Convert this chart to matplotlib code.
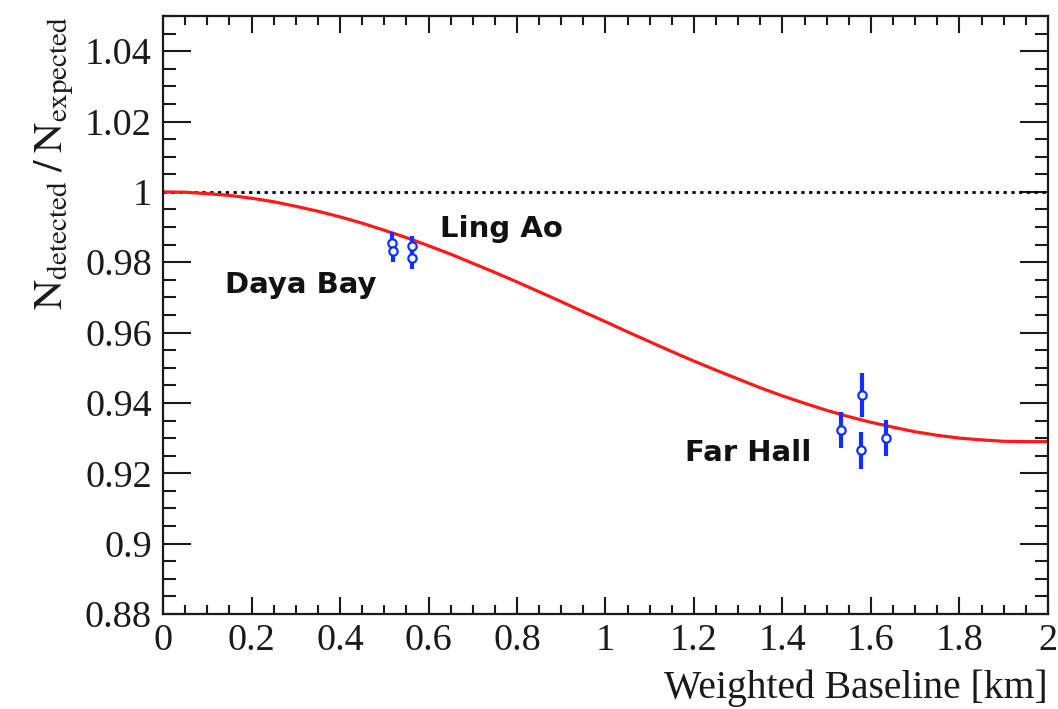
import numpy as np
import matplotlib.pyplot as plt
from matplotlib.ticker import MultipleLocator

plt.rcParams['font.family'] = ['Liberation Serif', 'DejaVu Serif']
plt.rcParams['mathtext.fontset'] = 'stix'

# expected ratio curve, every 0.05 km
curve_L = [0.0, 0.05, 0.1, 0.15, 0.2, 0.25, 0.3, 0.35, 0.4, 0.45, 0.5,
           0.55, 0.6, 0.65, 0.7, 0.75, 0.8, 0.85, 0.9, 0.95, 1.0,
           1.05, 1.1, 1.15, 1.2, 1.25, 1.3, 1.35, 1.4, 1.45, 1.5,
           1.55, 1.6, 1.65, 1.7, 1.75, 1.8, 1.85, 1.9, 1.95, 2.0]
curve_ratio = [1.0000, 0.9999, 0.9995, 0.9990, 0.9982, 0.9972, 0.9959,
               0.9945, 0.9929, 0.9911, 0.9891, 0.9870, 0.9847, 0.9823,
               0.9797, 0.9771, 0.9744, 0.9716, 0.9688, 0.9659, 0.9631,
               0.9602, 0.9574, 0.9546, 0.9519, 0.9493, 0.9468, 0.9443,
               0.9420, 0.9399, 0.9379, 0.9361, 0.9345, 0.9331, 0.9318,
               0.9308, 0.9300, 0.9295, 0.9291, 0.9290, 0.9290]

# measured ratios per detector
det_L = [0.518, 0.520, 0.563, 0.563, 1.532, 1.580, 1.578, 1.634]
det_ratio = [0.9855, 0.9832, 0.9845, 0.9812, 0.9324, 0.9423, 0.9265, 0.9301]
det_err = [0.0030, 0.0030, 0.0030, 0.0030, 0.0051, 0.0063, 0.0052, 0.0051]

hall_names = ['Daya Bay', 'Ling Ao', 'Far Hall']
hall_L = [0.14, 0.625, 1.18]
hall_y = [0.9734, 0.9895, 0.9257]

fig = plt.figure(figsize=(10.58, 7.09), dpi=100)
ax = fig.add_axes([0.1541, 0.134, 0.8364, 0.8434])

ax.plot([0, 2], [1, 1], color='black', ls=(0, (1.2, 1.6)), lw=2)
ax.plot(curve_L, curve_ratio, color='#ff1a1a', lw=2.3)
ax.errorbar(det_L, det_ratio, yerr=det_err, fmt='o', color='#1030ff',
            ecolor='#1030ff', elinewidth=3, capsize=0, ms=6,
            mfc='white', mec='#1030ff', mew=1.6, zorder=5)

for name, x, y in zip(hall_names, hall_L, hall_y):
    ax.text(x, y, name, family='DejaVu Sans', fontweight='bold',
            fontsize=21, color='#111111', va='center', ha='left')

ax.set_xlim(0, 2)
ax.set_ylim(0.88, 1.05)
ax.xaxis.set_major_locator(MultipleLocator(0.2))
ax.xaxis.set_minor_locator(MultipleLocator(0.05))
ax.yaxis.set_major_locator(MultipleLocator(0.02))
ax.yaxis.set_minor_locator(MultipleLocator(0.005))
ax.set_xticks([0, 0.2, 0.4, 0.6, 0.8, 1, 1.2, 1.4, 1.6, 1.8, 2])
ax.set_xticklabels(['0', '0.2', '0.4', '0.6', '0.8', '1', '1.2', '1.4',
                    '1.6', '1.8', '2'])
ax.set_yticks([0.88, 0.9, 0.92, 0.94, 0.96, 0.98, 1, 1.02, 1.04])
ax.set_yticklabels(['0.88', '0.9', '0.92', '0.94', '0.96', '0.98', '1',
                    '1.02', '1.04'])

ax.tick_params(axis='both', which='both', direction='in', top=True,
               right=True, width=1.5, colors='#1a1a1a', labelsize=27.5)
ax.tick_params(axis='x', which='major', length=12, pad=7)
ax.tick_params(axis='x', which='minor', length=6.5)
ax.tick_params(axis='y', which='major', length=20, pad=8)
ax.tick_params(axis='y', which='minor', length=9.5)
for s in ax.spines.values():
    s.set_linewidth(1.6)
    s.set_color('#1a1a1a')

ax.set_xlabel('Weighted Baseline [km]', fontsize=28.5, loc='right',
              labelpad=8, color='#1a1a1a')
ax.set_ylabel(r'$\mathrm{N_{detected}\;/\;N_{expected}}$', fontsize=30,
              loc='top', labelpad=6, color='#1a1a1a')

fig.savefig('out.png', dpi=100)
